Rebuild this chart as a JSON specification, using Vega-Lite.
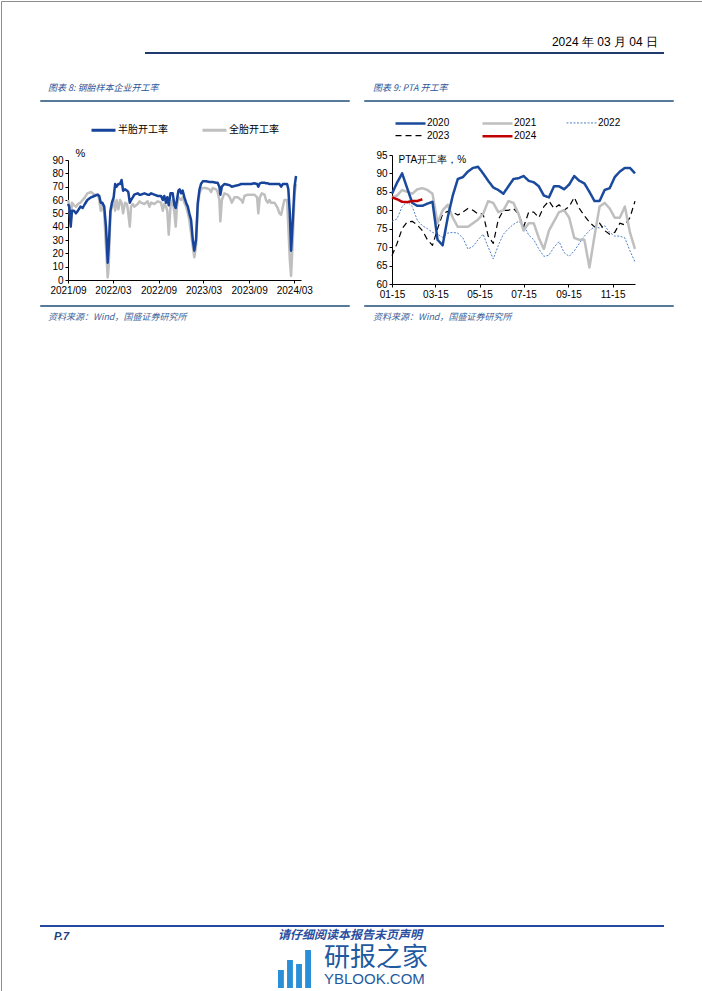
{
"$schema": "https://vega.github.io/schema/vega-lite/v6.json",
"padding": 0,
"autosize": {"type": "pad"},
"background": "white",
"config": {
  "view": {"stroke": null},
  "font": "Liberation Sans",
  "axis": {"labelFont": "Liberation Sans", "labelFontSize": 10, "labelColor": "#000", "domainColor": "#000", "tickColor": "#000", "tickSize": 3, "grid": false, "labelPadding": 2, "labelOverlap": false},
  "title": {"fontWeight": "normal"}
},
"datasets": {"none": []},
"bounds": "flush",
"spacing": 0,
"resolve": {
  "scale": {"color": "independent", "strokeDash": "independent", "strokeWidth": "independent"},
  "legend": {"color": "independent", "strokeDash": "independent", "strokeWidth": "independent"}
},
"vconcat": [
  {"bounds": "flush", "spacing": 0, "hconcat": [
    {"width": 701, "height": 990, "data": {"name": "none"}, "mark": "point", "view": {"stroke": "#8c8c8c", "strokeWidth": 1}}
  ]},
  {"width": 0.01, "height": 52, "data": {"name": "none"}, "mark": "point"},
  {"bounds": "flush", "spacing": 0, "hconcat": [
    {"width": 145, "height": 0.01, "data": {"name": "none"}, "mark": "point"},
    {"width": 517, "height": 0.01, "data": {"name": "none"}, "mark": "point", "view": {"stroke": "#1f3a6e", "strokeWidth": 2},
     "title": {"text": "2024 年 03 月 04 日", "orient": "top", "anchor": "end", "offset": 4, "dx": -5, "fontSize": 12, "font": "Liberation Sans", "color": "#000"}}
  ]},
  {"width": 0.01, "height": 48, "data": {"name": "none"}, "mark": "point"},
  {"bounds": "flush", "spacing": 0, "hconcat": [
    {"width": 40, "height": 0.01, "data": {"name": "none"}, "mark": "point"},
    {"width": 308, "height": 0.01, "data": {"name": "none"}, "mark": "point", "view": {"stroke": "#1f4e79", "strokeWidth": 1.5},
     "title": {"text": "图表 8: 钢胎样本企业开工率", "orient": "top", "anchor": "start", "offset": 8, "dx": 7, "fontSize": 9, "font": "Noto Sans CJK SC", "fontStyle": "italic", "color": "#2f5597"}},
    {"width": 16, "height": 0.01, "data": {"name": "none"}, "mark": "point"},
    {"width": 308, "height": 0.01, "data": {"name": "none"}, "mark": "point", "view": {"stroke": "#1f4e79", "strokeWidth": 1.5},
     "title": {"text": "图表 9: PTA 开工率", "orient": "top", "anchor": "start", "offset": 8, "dx": 8, "fontSize": 9, "font": "Noto Sans CJK SC", "fontStyle": "italic", "color": "#2f5597"}}
  ]},
  {"width": 0.01, "height": 53.3, "data": {"name": "none"}, "mark": "point"},
  {"bounds": "flush", "spacing": 0,
   "resolve": {"scale": {"color": "independent", "strokeDash": "independent", "strokeWidth": "independent"}, "legend": {"color": "independent", "strokeDash": "independent", "strokeWidth": "independent"}},
   "hconcat": [
    {"width": 391, "height": 0.01, "data": {"name": "none"}, "mark": "point"},
    {"width": 243, "height": 129,
     "data": {"values": [
{"d":"2000-01-15","2020":84.5,"2021":83.5,"2022":77,"2023":67.7,"2024":83.5},
{"d":"2000-01-22","2020":87.5,"2021":84,"2022":77.7,"2023":71,"2024":83},
{"d":"2000-01-29","2020":90,"2021":85.5,"2022":81,"2023":75,"2024":82.3},
{"d":"2000-02-05","2020":86,"2021":85,"2022":82.3,"2023":76.8,"2024":82.2},
{"d":"2000-02-12","2020":82,"2021":84.5,"2022":81,"2023":77,"2024":82.5},
{"d":"2000-02-19","2020":81.2,"2021":85.7,"2022":77.3,"2023":76,"2024":82.5},
{"d":"2000-02-26","2020":81.2,"2021":86,"2022":75.8,"2023":74.5,"2024":83},
{"d":"2000-03-04","2020":81.8,"2021":85.5,"2022":75,"2023":72},
{"d":"2000-03-11","2020":82.3,"2021":84.5,"2022":74,"2023":70.5},
{"d":"2000-03-18","2020":72,"2021":76.5,"2022":73.5,"2023":75},
{"d":"2000-03-25","2020":70.5,"2021":80,"2022":72.7,"2023":79},
{"d":"2000-04-01","2020":78,"2021":81.5,"2022":73.8,"2023":79.7},
{"d":"2000-04-08","2020":84,"2021":78,"2022":74,"2023":79.5},
{"d":"2000-04-15","2020":88.5,"2021":75.5,"2022":73.8,"2023":78.7},
{"d":"2000-04-22","2020":89,"2021":75.5,"2022":72.5,"2023":79.5},
{"d":"2000-04-29","2020":90.5,"2021":75.5,"2022":69.5,"2023":80.5},
{"d":"2000-05-06","2020":91.5,"2021":76.5,"2022":70.2,"2023":80},
{"d":"2000-05-13","2020":91.8,"2021":77.5,"2022":72,"2023":79},
{"d":"2000-05-20","2020":90,"2021":79,"2022":73.5,"2023":79},
{"d":"2000-05-27","2020":88,"2021":82.5,"2022":70,"2023":73},
{"d":"2000-06-03","2020":86.2,"2021":82,"2022":66.8,"2023":71},
{"d":"2000-06-10","2020":85.5,"2021":79.5,"2022":70.5,"2023":77.5},
{"d":"2000-06-17","2020":84.5,"2021":80,"2022":73.5,"2023":80},
{"d":"2000-06-24","2020":86.5,"2021":82.5,"2022":75,"2023":80},
{"d":"2000-07-01","2020":88.5,"2021":82,"2022":76.2,"2023":80.5},
{"d":"2000-07-08","2020":88.7,"2021":79,"2022":77,"2023":79},
{"d":"2000-07-15","2020":89.3,"2021":74.5,"2022":76,"2023":75.5},
{"d":"2000-07-22","2020":88,"2021":76.5,"2022":73.3,"2023":79.5},
{"d":"2000-07-29","2020":87.6,"2021":76.5,"2022":72,"2023":79.5},
{"d":"2000-08-05","2020":86.5,"2021":72.5,"2022":69.5,"2023":78},
{"d":"2000-08-12","2020":84,"2021":69.5,"2022":67.5,"2023":81},
{"d":"2000-08-19","2020":83.5,"2021":74.5,"2022":67.8,"2023":82.5},
{"d":"2000-08-26","2020":86.5,"2021":77,"2022":70,"2023":80.5},
{"d":"2000-09-02","2020":86.5,"2021":79.5,"2022":71.5,"2023":81.5},
{"d":"2000-09-09","2020":85.7,"2021":80,"2022":68.5,"2023":80},
{"d":"2000-09-16","2020":87,"2021":78,"2022":67.5,"2023":81},
{"d":"2000-09-23","2020":89.3,"2021":72.5,"2022":69,"2023":83.5},
{"d":"2000-09-30","2020":88,"2021":72,"2022":71,"2023":80.5},
{"d":"2000-10-07","2020":87.3,"2021":72,"2022":73,"2023":78.5},
{"d":"2000-10-14","2020":85,"2021":64.5,"2022":74.5,"2023":76.8},
{"d":"2000-10-21","2020":82.5,"2021":73,"2022":75.5,"2023":75.5},
{"d":"2000-10-28","2020":82.5,"2021":81,"2022":75.2,"2023":76.5},
{"d":"2000-11-04","2020":85.5,"2021":82,"2022":75.8,"2023":74.5},
{"d":"2000-11-11","2020":86,"2021":80.5,"2022":74,"2023":73.5},
{"d":"2000-11-18","2020":89,"2021":78,"2022":73,"2023":74},
{"d":"2000-11-25","2020":90.5,"2021":78,"2022":73,"2023":76.5},
{"d":"2000-12-02","2020":91.5,"2021":81,"2022":72.5,"2023":76},
{"d":"2000-12-09","2020":91.5,"2021":74,"2022":69,"2023":78},
{"d":"2000-12-16","2020":90,"2021":69.5,"2022":66,"2023":82.5}
     ]},
     "transform": [{"fold": ["2022", "2023", "2021", "2020", "2024"], "as": ["year", "rate"]}],
     "mark": {"type": "line", "strokeJoin": "round"},
     "encoding": {
       "x": {"field": "d", "type": "temporal",
             "scale": {"type": "utc", "domain": [{"year": 2000, "month": 1, "date": 15, "utc": true}, {"year": 2000, "month": 12, "date": 16, "utc": true}]},
             "axis": {"title": null, "format": "%m-%d", "labelFlush": false,
                      "values": [{"year": 2000, "month": 1, "date": 15, "utc": true}, {"year": 2000, "month": 3, "date": 15, "utc": true}, {"year": 2000, "month": 5, "date": 15, "utc": true}, {"year": 2000, "month": 7, "date": 15, "utc": true}, {"year": 2000, "month": 9, "date": 15, "utc": true}, {"year": 2000, "month": 11, "date": 15, "utc": true}]}},
       "y": {"field": "rate", "type": "quantitative", "scale": {"domain": [60, 95], "nice": false},
             "axis": {"values": [60, 65, 70, 75, 80, 85, 90, 95], "title": "PTA开工率，%", "titleAngle": 0, "titleX": 6, "titleY": 4, "titleAlign": "left", "titleBaseline": "middle", "titleFontSize": 10, "titleFontWeight": "normal", "titleColor": "#000", "titleFont": "Liberation Sans"}},
       "color": {"field": "year", "type": "nominal",
                 "scale": {"domain": ["2020", "2021", "2022", "2023", "2024"], "range": ["#1a4a9c", "#bfbfbf", "#4f81c7", "#000000", "#c00000"]},
                 "legend": {"orient": "none", "legendX": 11, "legendY": -39.3, "direction": "horizontal", "columns": 3, "title": null, "symbolType": "M-2.5,0H2.5", "symbolSize": 144, "labelFontSize": 10, "labelFont": "Liberation Sans", "labelColor": "#000", "labelOffset": 9, "columnPadding": 27, "rowPadding": 0, "padding": 0}},
       "strokeDash": {"field": "year", "type": "nominal", "scale": {"domain": ["2020", "2021", "2022", "2023", "2024"], "range": [[1, 0], [1, 0], [2, 1.5], [6, 4], [1, 0]]}},
       "strokeWidth": {"field": "year", "type": "nominal", "scale": {"type": "ordinal", "domain": ["2020", "2021", "2022", "2023", "2024"], "range": [2.5, 2.5, 1, 1.2, 2.5]}}
     }}
  ]},
  {"width": 0.01, "height": 4.2, "data": {"name": "none"}, "mark": "point"},
  {"bounds": "flush", "spacing": 0,
   "resolve": {"scale": {"color": "independent"}, "legend": {"color": "independent"}},
   "hconcat": [
    {"width": 67, "height": 0.01, "data": {"name": "none"}, "mark": "point"},
    {"width": 233, "height": 120,
     "data": {"values": [
{"d":"2021-09-01","半胎开工率":57,"全胎开工率":60},
{"d":"2021-09-06","半胎开工率":55,"全胎开工率":56},
{"d":"2021-09-12","半胎开工率":40,"全胎开工率":42},
{"d":"2021-09-17","半胎开工率":52,"全胎开工率":58},
{"d":"2021-09-25","半胎开工率":52,"全胎开工率":56},
{"d":"2021-10-03","半胎开工率":50,"全胎开工率":55},
{"d":"2021-10-11","半胎开工率":52,"全胎开工率":57},
{"d":"2021-10-21","半胎开工率":55,"全胎开工率":58},
{"d":"2021-10-30","半胎开工率":54,"全胎开工率":60},
{"d":"2021-11-08","半胎开工率":57,"全胎开工率":62},
{"d":"2021-11-18","半胎开工率":60,"全胎开工率":65},
{"d":"2021-12-03","半胎开工率":62,"全胎开工率":66},
{"d":"2021-12-16","半胎开工率":63,"全胎开工率":64},
{"d":"2021-12-30","半胎开工率":64,"全胎开工率":64},
{"d":"2022-01-05","半胎开工率":63,"全胎开工率":60},
{"d":"2022-01-11","半胎开工率":58,"全胎开工率":52},
{"d":"2022-01-17","半胎开工率":58,"全胎开工率":58},
{"d":"2022-01-25","半胎开工率":55,"全胎开工率":50},
{"d":"2022-02-01","半胎开工率":40,"全胎开工率":25},
{"d":"2022-02-08","半胎开工率":13,"全胎开工率":2},
{"d":"2022-02-12","半胎开工率":25,"全胎开工率":10},
{"d":"2022-02-19","半胎开工率":52,"全胎开工率":50},
{"d":"2022-02-25","半胎开工率":58,"全胎开工率":55},
{"d":"2022-03-04","半胎开工率":62,"全胎开工率":60},
{"d":"2022-03-10","半胎开工率":72,"全胎开工率":52},
{"d":"2022-03-16","半胎开工率":70,"全胎开工率":60},
{"d":"2022-03-23","半胎开工率":72,"全胎开工率":53},
{"d":"2022-03-30","半胎开工率":72,"全胎开工率":60},
{"d":"2022-04-05","半胎开工率":75,"全胎开工率":58},
{"d":"2022-04-11","半胎开工率":67,"全胎开工率":50},
{"d":"2022-04-19","半胎开工率":68,"全胎开工率":58},
{"d":"2022-04-27","半胎开工率":67,"全胎开工率":57},
{"d":"2022-05-02","半胎开工率":66,"全胎开工率":50},
{"d":"2022-05-08","半胎开工率":58,"全胎开工率":40},
{"d":"2022-05-13","半胎开工率":60,"全胎开工率":55},
{"d":"2022-05-20","半胎开工率":62,"全胎开工率":57},
{"d":"2022-05-26","半胎开工率":64,"全胎开工率":55},
{"d":"2022-06-09","半胎开工率":65,"全胎开工率":57},
{"d":"2022-06-16","半胎开工率":64,"全胎开工率":59},
{"d":"2022-06-22","半胎开工率":64,"全胎开工率":58},
{"d":"2022-07-06","半胎开工率":65,"全胎开工率":57},
{"d":"2022-07-19","半胎开工率":64,"全胎开工率":59},
{"d":"2022-07-26","半胎开工率":64,"全胎开工率":55},
{"d":"2022-08-02","半胎开工率":65,"全胎开工率":58},
{"d":"2022-08-15","半胎开工率":64,"全胎开工率":57},
{"d":"2022-08-29","半胎开工率":63,"全胎开工率":59},
{"d":"2022-09-11","半胎开工率":63,"全胎开工率":58},
{"d":"2022-09-18","半胎开工率":60,"全胎开工率":52},
{"d":"2022-09-24","半胎开工率":63,"全胎开工率":57},
{"d":"2022-10-01","半胎开工率":58,"全胎开工率":55},
{"d":"2022-10-06","半胎开工率":62,"全胎开工率":52},
{"d":"2022-10-12","半胎开工率":56,"全胎开工率":34},
{"d":"2022-10-19","半胎开工率":65,"全胎开工率":55},
{"d":"2022-10-28","半胎开工率":65,"全胎开工率":60},
{"d":"2022-11-04","半胎开工率":56,"全胎开工率":50},
{"d":"2022-11-09","半胎开工率":54,"全胎开工率":40},
{"d":"2022-11-14","半胎开工率":60,"全胎开工率":55},
{"d":"2022-11-20","半胎开工率":67,"全胎开工率":62},
{"d":"2022-11-25","半胎开工率":68,"全胎开工率":61},
{"d":"2022-12-01","半胎开工率":65,"全胎开工率":60},
{"d":"2022-12-07","半胎开工率":67,"全胎开工率":62},
{"d":"2022-12-14","半胎开工率":62,"全胎开工率":58},
{"d":"2022-12-21","半胎开工率":58,"全胎开工率":55},
{"d":"2022-12-28","半胎开工率":55,"全胎开工率":50},
{"d":"2023-01-03","半胎开工率":50,"全胎开工率":45},
{"d":"2023-01-10","半胎开工率":45,"全胎开工率":35},
{"d":"2023-01-17","半胎开工率":30,"全胎开工率":25},
{"d":"2023-01-23","半胎开工率":22,"全胎开工率":17},
{"d":"2023-01-30","半胎开工率":30,"全胎开工率":25},
{"d":"2023-02-06","半胎开工率":58,"全胎开工率":55},
{"d":"2023-02-13","半胎开工率":68,"全胎开工率":65},
{"d":"2023-02-19","半胎开工率":72,"全胎开工率":68},
{"d":"2023-02-26","半胎开工率":74,"全胎开工率":69},
{"d":"2023-03-11","半胎开工率":74,"全胎开工率":69},
{"d":"2023-03-25","半胎开工率":73.5,"全胎开工率":68},
{"d":"2023-04-01","半胎开工率":73.5,"全胎开工率":66},
{"d":"2023-04-07","半胎开工率":73.5,"全胎开工率":69},
{"d":"2023-04-21","半胎开工率":73,"全胎开工率":68},
{"d":"2023-04-27","半胎开工率":73,"全胎开工率":66},
{"d":"2023-05-04","半胎开工率":70,"全胎开工率":60},
{"d":"2023-05-08","半胎开工率":64,"全胎开工率":44},
{"d":"2023-05-14","半胎开工率":70,"全胎开工率":60},
{"d":"2023-05-24","半胎开工率":72,"全胎开工率":65},
{"d":"2023-06-07","半胎开工率":71.5,"全胎开工率":64},
{"d":"2023-06-15","半胎开工率":71,"全胎开工率":62},
{"d":"2023-06-23","半胎开工率":70,"全胎开工率":58},
{"d":"2023-07-04","半胎开工率":70.5,"全胎开工率":62},
{"d":"2023-07-17","半胎开工率":71,"全胎开工率":62},
{"d":"2023-07-31","半胎开工率":72,"全胎开工率":60},
{"d":"2023-08-06","半胎开工率":72,"全胎开工率":58},
{"d":"2023-08-13","半胎开工率":72,"全胎开工率":63},
{"d":"2023-08-26","半胎开工率":72,"全胎开工率":64},
{"d":"2023-09-09","半胎开工率":72,"全胎开工率":64},
{"d":"2023-09-22","半胎开工率":72.5,"全胎开工率":64},
{"d":"2023-10-03","半胎开工率":72,"全胎开工率":62},
{"d":"2023-10-08","半胎开工率":70,"全胎开工率":50},
{"d":"2023-10-14","半胎开工率":72.5,"全胎开工率":62},
{"d":"2023-10-22","半胎开工率":73,"全胎开工率":65},
{"d":"2023-11-02","半胎开工率":73,"全胎开工率":64},
{"d":"2023-11-08","半胎开工率":72.5,"全胎开工率":60},
{"d":"2023-11-15","半胎开工率":72.5,"全胎开工率":58},
{"d":"2023-11-22","半胎开工率":72,"全胎开工率":60},
{"d":"2023-11-28","半胎开工率":72,"全胎开工率":58},
{"d":"2023-12-12","半胎开工率":72,"全胎开工率":58},
{"d":"2023-12-19","半胎开工率":72,"全胎开工率":56},
{"d":"2023-12-25","半胎开工率":72,"全胎开工率":54},
{"d":"2024-01-01","半胎开工率":72,"全胎开工率":50},
{"d":"2024-01-08","半胎开工率":70,"全胎开工率":49},
{"d":"2024-01-15","半胎开工率":72,"全胎开工率":55},
{"d":"2024-01-21","半胎开工率":72,"全胎开工率":60},
{"d":"2024-02-01","半胎开工率":72,"全胎开工率":60},
{"d":"2024-02-06","半胎开工率":68,"全胎开工率":40},
{"d":"2024-02-12","半胎开工率":50,"全胎开工率":15},
{"d":"2024-02-17","半胎开工率":22,"全胎开工率":3},
{"d":"2024-02-24","半胎开工率":45,"全胎开工率":30},
{"d":"2024-03-02","半胎开工率":70,"全胎开工率":65},
{"d":"2024-03-08","半胎开工率":78,"全胎开工率":72}
     ]},
     "transform": [{"fold": ["全胎开工率", "半胎开工率"], "as": ["series", "value"]}],
     "mark": {"type": "line", "strokeWidth": 2.5, "strokeJoin": "round"},
     "encoding": {
       "x": {"field": "d", "type": "temporal",
             "scale": {"type": "utc", "domain": [{"year": 2021, "month": 9, "date": 1, "utc": true}, {"year": 2024, "month": 3, "date": 28, "utc": true}]},
             "axis": {"title": null, "format": "%Y/%m", "labelFlush": false,
                      "values": [{"year": 2021, "month": 9, "date": 1, "utc": true}, {"year": 2022, "month": 3, "date": 1, "utc": true}, {"year": 2022, "month": 9, "date": 1, "utc": true}, {"year": 2023, "month": 3, "date": 1, "utc": true}, {"year": 2023, "month": 9, "date": 1, "utc": true}, {"year": 2024, "month": 3, "date": 1, "utc": true}]}},
       "y": {"field": "value", "type": "quantitative", "scale": {"domain": [0, 90], "nice": false},
             "axis": {"values": [0, 10, 20, 30, 40, 50, 60, 70, 80, 90], "title": "%", "titleAngle": 0, "titleX": 12, "titleY": -2, "titleAlign": "center", "titleBaseline": "bottom", "titleFontSize": 11, "titleFontWeight": "normal", "titleColor": "#000", "titleFont": "Liberation Sans"}},
       "color": {"field": "series", "type": "nominal",
                 "scale": {"domain": ["半胎开工率", "全胎开工率"], "range": ["#17449a", "#bfbfbf"]},
                 "legend": {"orient": "none", "legendX": 28, "legendY": -37.5, "direction": "horizontal", "title": null, "symbolType": "M-2,0H2", "symbolSize": 144, "symbolStrokeWidth": 3, "labelFontSize": 10, "labelFont": "Noto Sans CJK SC", "labelColor": "#000", "labelOffset": 7, "columnPadding": 28, "padding": 0}}
     }}
  ]},
  {"width": 0.01, "height": 145.5, "data": {"name": "none"}, "mark": "point"},
  {"bounds": "flush", "spacing": 0, "hconcat": [
    {"width": 40, "height": 0.01, "data": {"name": "none"}, "mark": "point"},
    {"width": 308, "height": 0.01, "data": {"name": "none"}, "mark": "point", "view": {"stroke": "#1f4e79", "strokeWidth": 1.5},
     "title": {"text": "资料来源：Wind，国盛证券研究所", "orient": "bottom", "anchor": "start", "offset": 6.5, "dx": 7, "fontSize": 9, "font": "Noto Sans CJK SC", "fontStyle": "italic", "color": "#3d5f99"}},
    {"width": 16, "height": 0.01, "data": {"name": "none"}, "mark": "point"},
    {"width": 308, "height": 0.01, "data": {"name": "none"}, "mark": "point", "view": {"stroke": "#1f4e79", "strokeWidth": 1.5},
     "title": {"text": "资料来源：Wind，国盛证券研究所", "orient": "bottom", "anchor": "start", "offset": 6.5, "dx": 8, "fontSize": 9, "font": "Noto Sans CJK SC", "fontStyle": "italic", "color": "#3d5f99"}}
  ]},
  {"width": 0.01, "height": 620, "data": {"name": "none"}, "mark": "point"},
  {"bounds": "flush", "spacing": 0, "hconcat": [
    {"width": 40, "height": 0.01, "data": {"name": "none"}, "mark": "point"},
    {"width": 622, "height": 0.01, "data": {"name": "none"}, "mark": "point", "view": {"stroke": "#2447a0", "strokeWidth": 2},
     "title": {"text": "P.7", "orient": "bottom", "anchor": "start", "offset": 5, "dx": 13, "fontSize": 11, "font": "Liberation Sans", "fontWeight": "bold", "fontStyle": "italic", "color": "#1f3f7f"}}
  ]},
  {"bounds": "flush", "spacing": 0, "hconcat": [
    {"width": 40, "height": 0.01, "data": {"name": "none"}, "mark": "point"},
    {"width": 622, "height": 0.01, "data": {"name": "none"}, "mark": "point",
     "title": {"text": "请仔细阅读本报告末页声明", "orient": "bottom", "anchor": "middle", "offset": 4, "dx": -2, "fontSize": 12, "font": "Noto Sans CJK SC", "fontWeight": "bold", "fontStyle": "italic", "color": "#2a4ea0"}}
  ]},
  {"bounds": "flush", "spacing": 0, "hconcat": [
    {"width": 323, "height": 0.01, "data": {"name": "none"}, "mark": "point"},
    {"width": 102, "height": 0.01, "data": {"name": "none"}, "mark": "point",
     "title": {"text": "研报之家", "subtitle": "YBLOOK.COM", "orient": "bottom", "anchor": "start", "offset": 19, "fontSize": 26, "font": "Noto Sans CJK SC", "color": "#1f5aa0", "subtitleFontSize": 15, "subtitleFont": "Liberation Sans", "subtitleColor": "#1f5aa0", "subtitlePadding": 1}}
  ]},
  {"width": 0.01, "height": 22, "data": {"name": "none"}, "mark": "point"},
  {"bounds": "flush", "spacing": 0, "hconcat": [
    {"width": 277, "height": 0.01, "data": {"name": "none"}, "mark": "point"},
    {"width": 33, "height": 40,
     "data": {"values": [{"bar": "a", "h": 4.5}, {"bar": "b", "h": 7}, {"bar": "c", "h": 6}, {"bar": "d", "h": 9.5}]},
     "mark": {"type": "bar", "color": "#2b8fd8"},
     "encoding": {
       "x": {"field": "bar", "type": "ordinal", "scale": {"paddingInner": 0.35, "paddingOuter": 0}, "axis": null},
       "y": {"field": "h", "type": "quantitative", "scale": {"domain": [0, 10]}, "axis": null}
     }}
  ]}
]
}
